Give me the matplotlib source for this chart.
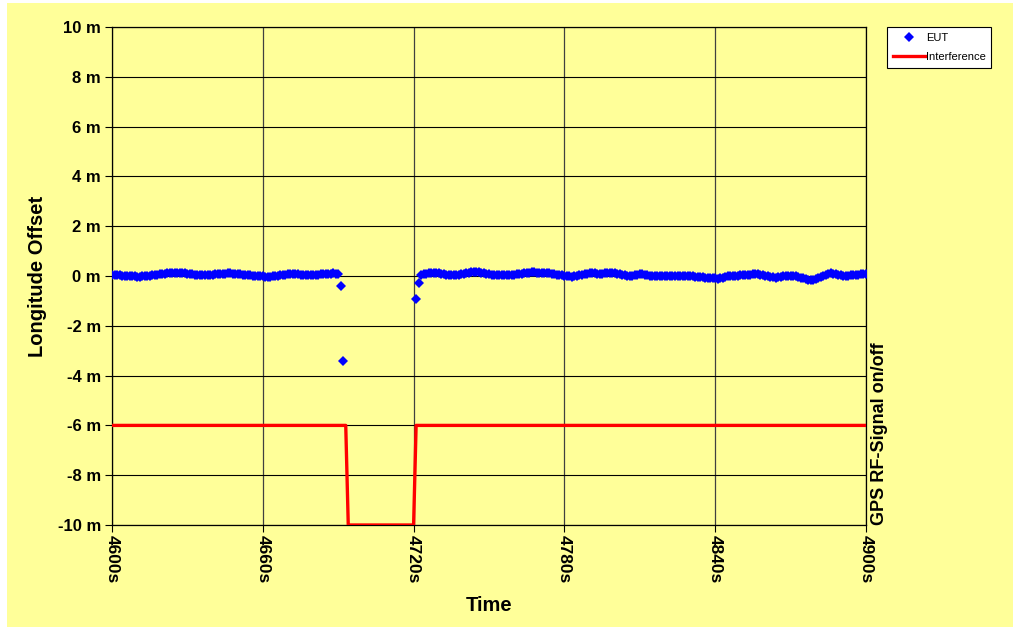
import numpy as np
import matplotlib
matplotlib.use('Agg')
import matplotlib.pyplot as plt
from matplotlib.patches import Rectangle

plt.rcParams['font.family'] = ['Liberation Sans', 'DejaVu Sans']

# EUT longitude offset, 1 s samples
eut_before = [0.04, 0.04, 0.03, 0.03, 0.02, 0.02,
              0.01, 0.0, -0.01, -0.02, -0.03, -0.03,
              -0.02, -0.01, 0.0, 0.02, 0.03,
              0.04, 0.06, 0.07, 0.09, 0.10, 0.11,
              0.12, 0.12, 0.13, 0.13,
              0.12, 0.12, 0.11, 0.10,
              0.09, 0.08, 0.06, 0.05, 0.04,
              0.04, 0.05, 0.05, 0.06, 0.06, 0.07,
              0.08, 0.09, 0.09, 0.10, 0.11, 0.11,
              0.10, 0.09, 0.08, 0.07,
              0.06, 0.05, 0.04, 0.03,
              0.02, 0.01, 0.0, -0.01, -0.02, -0.03, -0.03, -0.04,
              -0.02, 0.0, 0.01, 0.03,
              0.05, 0.06, 0.08, 0.09,
              0.08, 0.08, 0.07, 0.06,
              0.05, 0.05, 0.04,
              0.05, 0.05, 0.06, 0.06, 0.07,
              0.08, 0.09, 0.10, 0.10, 0.11,
              0.10, 0.08,
              -0.40, -3.40]
eut_after = [-0.94, -0.28,
             0.05, 0.08, 0.10, 0.11, 0.12, 0.13, 0.13,
             0.12, 0.10, 0.08, 0.06, 0.05, 0.04, 0.04,
             0.05, 0.06, 0.07, 0.08, 0.11, 0.14, 0.18,
             0.18, 0.18, 0.16, 0.14, 0.12, 0.10,
             0.08, 0.06, 0.04, 0.03,
             0.03, 0.03, 0.04, 0.04, 0.04,
             0.05, 0.06, 0.08, 0.09, 0.10,
             0.12, 0.13, 0.14, 0.15,
             0.15, 0.14, 0.14, 0.13,
             0.12, 0.12, 0.11,
             0.09, 0.08, 0.06, 0.05,
             0.03, 0.02, 0.0, -0.02, -0.03,
             -0.01, 0.01, 0.03,
             0.05, 0.07, 0.09, 0.11,
             0.11, 0.11, 0.10, 0.10, 0.10,
             0.11, 0.12, 0.12, 0.13,
             0.11, 0.10, 0.08, 0.06,
             0.04, 0.02, 0.0,
             0.02, 0.04, 0.06, 0.08,
             0.07, 0.05, 0.04, 0.02,
             0.02, 0.02, 0.02, 0.02,
             0.02, 0.01, 0.01, 0.01, 0.01,
             0.01, 0.01, 0.01, 0.01,
             0.0, 0.0, -0.01, -0.02,
             -0.03, -0.04, -0.05,
             -0.06, -0.07, -0.07, -0.08,
             -0.09, -0.10, -0.11,
             -0.09, -0.07, -0.05,
             -0.02, 0.01,
             0.01, 0.02, 0.02, 0.03,
             0.04, 0.05, 0.06, 0.06, 0.07, 0.08,
             0.07, 0.05, 0.04, 0.02,
             0.0, -0.03, -0.05, -0.07,
             -0.06, -0.04, -0.02,
             -0.01, 0.0, 0.01, 0.01,
             -0.01, -0.04, -0.07, -0.10,
             -0.12, -0.15, -0.17,
             -0.15, -0.13, -0.10,
             -0.05, 0.0, 0.05,
             0.08, 0.11,
             0.10, 0.08, 0.06,
             0.04, 0.02, 0.0,
             0.02, 0.03, 0.05, 0.06,
             0.06, 0.07, 0.07, 0.08]
eut_time = np.r_[np.arange(4600, 4600 + len(eut_before)),
                 np.arange(4721, 4721 + len(eut_after))]
eut_offset = np.array(eut_before + eut_after)

# interference on/off trace
interf_time = [4600, 4693, 4694, 4720, 4721, 4900]
interf_level = [-6, -6, -10, -10, -6, -6]

x_ticks = [4600, 4660, 4720, 4780, 4840, 4900]
x_labels = ['4600s', '4660s', '4720s', '4780s', '4840s', '4900s']
y_ticks = [-10, -8, -6, -4, -2, 0, 2, 4, 6, 8, 10]
y_labels = ['%d m' % v for v in y_ticks]

bg = '#FFFF99'

fig = plt.figure(figsize=(10.2, 6.3), dpi=100, facecolor='white')
fig.patches.append(Rectangle((7 / 1020, 3 / 630), 1006 / 1020, 624 / 630,
                             transform=fig.transFigure, facecolor=bg,
                             edgecolor='none', zorder=-10))

ax = fig.add_axes([112 / 1020, 1 - 525 / 630, 754 / 1020, 498 / 630])
ax.set_facecolor(bg)

ax.plot(interf_time, interf_level, color='#FF0000', lw=2.4, label='Interference',
        zorder=3)
ax.plot(eut_time, eut_offset, linestyle='none', marker='D', markersize=5,
        color='#0000FF', markeredgewidth=0, label='EUT', zorder=4)

ax.set_xlim(4600, 4900)
ax.set_ylim(-10, 10)
ax.set_xticks(x_ticks)
ax.set_xticklabels(x_labels, rotation=-90, fontsize=12.5, fontweight='bold')
ax.set_yticks(y_ticks)
ax.set_yticklabels(y_labels, fontsize=12, fontweight='bold')
ax.tick_params(direction='out', length=5, width=0.8, color='black', pad=3)
ax.tick_params(axis='x', pad=2)

ax.grid(axis='y', color='black', lw=0.8)
ax.grid(axis='x', color='#404040', lw=0.9)
for s in ax.spines.values():
    s.set_color('black')
    s.set_linewidth(0.9)

ax.set_xlabel('Time', fontsize=14.5, fontweight='bold', labelpad=9)
ax.set_ylabel('Longitude Offset', fontsize=14.5, fontweight='bold', labelpad=8)
fig.text(880 / 1020, 1 - 525 / 630, 'GPS RF-Signal on/off', rotation=90,
         fontsize=13, fontweight='bold', ha='center', va='bottom')

handles, labels = ax.get_legend_handles_labels()
leg = ax.legend(handles[::-1], labels[::-1], loc='upper left',
                bbox_to_anchor=(887 / 1020, 1 - 27 / 630),
                bbox_transform=fig.transFigure, fontsize=8, frameon=True,
                fancybox=False, edgecolor='black', framealpha=1,
                handlelength=2.9, handletextpad=0.1, borderpad=0.5,
                labelspacing=0.85, borderaxespad=0)
leg.get_frame().set_linewidth(0.8)

fig.savefig('out.png', dpi=100, facecolor='white')
